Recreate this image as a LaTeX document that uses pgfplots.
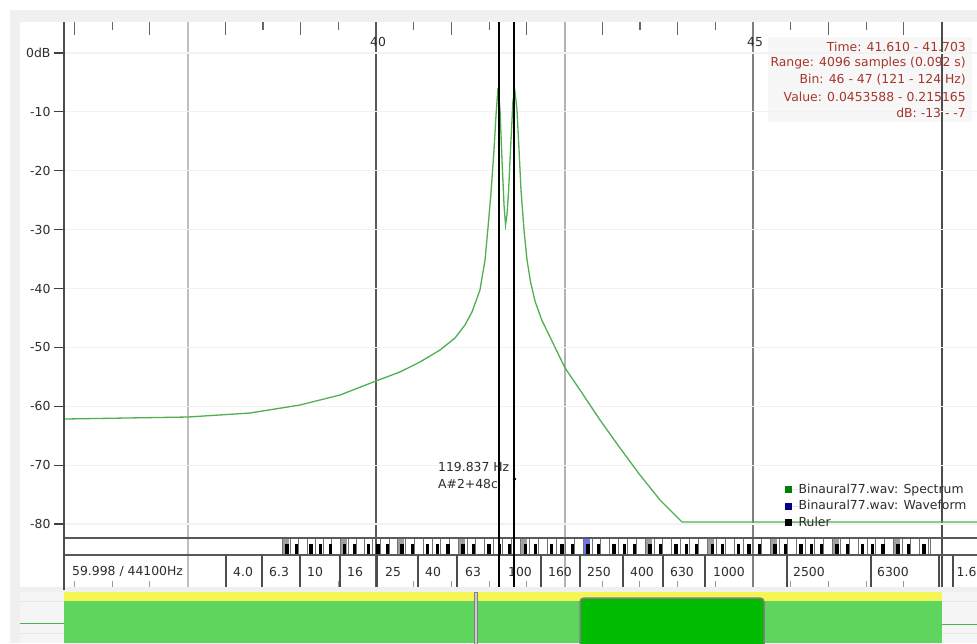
\documentclass[border=0pt]{standalone}
\usepackage{pgfplots}
\pgfplotsset{compat=1.18}
\usepackage{fontspec}
\setmainfont{DejaVu Sans}
\newcommand\fs{\fontsize{12.4}{15}\selectfont}
\definecolor{frame}{RGB}{240,240,240}
\definecolor{spec}{RGB}{80,175,80}
\definecolor{infored}{RGB}{165,55,45}
\definecolor{ovyellow}{RGB}{245,245,85}
\definecolor{ovgreen}{RGB}{94,214,94}
\definecolor{ovdark}{RGB}{0,187,0}
\definecolor{keygray}{RGB}{160,160,160}
\definecolor{keyblue}{RGB}{115,115,240}
\definecolor{txt}{RGB}{45,45,45}
\definecolor{legspec}{RGB}{0,128,0}
\definecolor{legwave}{RGB}{0,0,140}

% spectrum of the analysed window (x: time scale of the ruler, y: dB)
\pgfplotstableread{
x y
35.862 -62.17
37.507 -61.83
38.329 -61.15
38.992 -59.79
39.523 -58.09
40.000 -55.71
40.318 -54.18
40.584 -52.48
40.849 -50.45
41.048 -48.41
41.180 -46.20
41.273 -43.99
41.379 -40.25
41.446 -35.16
41.485 -29.72
41.525 -23.78
41.565 -16.48
41.592 -10.53
41.618 -5.94
41.645 -9.68
41.671 -18.17
41.698 -25.82
41.718 -29.21
41.737 -27.52
41.757 -23.78
41.784 -16.48
41.817 -7.98
41.844 -6.62
41.870 -9.68
41.897 -16.48
41.923 -23.27
41.963 -30.06
42.003 -35.16
42.050 -38.90
42.110 -42.20
42.200 -45.40
42.308 -48.24
42.507 -53.50
42.706 -57.24
42.971 -62.34
43.236 -67.09
43.501 -71.68
43.767 -75.92
43.966 -78.47
44.058 -79.66
47.971 -79.66
}\spectrum

\begin{document}
\begin{tikzpicture}
\useasboundingbox (0pt,0pt) rectangle (977pt,-643pt);
\clip (0pt,0pt) rectangle (977pt,-643pt);

% window background, keyboard, frequency strip and overview
\begin{scope}[x=1pt,y=-1pt]
  \fill[white] (0,0) rectangle (977,643);
  \fill[frame] (10,10) rectangle (977,643);
  \fill[white] (20,22) rectangle (977,587);
  % readout box
  \fill[black!3] (768,37) rectangle (972,122);
  % overview track
  \fill[black!4] (20,592) rectangle (64,643);
  \fill[black!4] (942,592) rectangle (977,643);
  \draw[black!10] (20,601) -- (64,601) (20,633) -- (64,633)
                  (942,601) -- (977,601) (942,633) -- (977,633);
  \draw[spec, line width=1pt] (20,623) -- (64,623) (942,624) -- (977,624);
  \fill[ovyellow] (64,592) rectangle (942,601);
  \fill[ovgreen] (64,601) rectangle (942,643);
  \draw[black!50, fill=black!20, line width=0.8pt] (474,592) rectangle (477.5,645);
  \draw[black!50, line width=1.5pt, fill=ovdark, rounded corners=4pt] (580,598) rectangle (764,650);

  % time ticks along the top and bottom
  \foreach \v in {36,...,47} \draw[black!60, line width=1.2pt] ({376+(\v-40)*75.4},22) -- ++(0,13);
  \foreach \v in {36.5,37.5,...,46.5} \draw[black!60, line width=1.2pt] ({376+(\v-40)*75.4},22) -- ++(0,8);
  \foreach \v in {36,36.5,...,47.5} \draw[black!40, line width=1pt] ({376+(\v-40)*75.4},581) -- ++(0,6);

  % vertical grid lines
  \draw[black!25, line width=1.5pt] (188,22) -- (188,587);
  \draw[black!65, line width=1.5pt] (376,22) -- (376,587);
  \draw[black!30, line width=1.5pt] (565,22) -- (565,587);
  \draw[black!50, line width=1.5pt] (753,22) -- (753,587);
  \draw[black!70, line width=1.5pt] (942,22) -- (942,587);

  % piano keyboard
  \begin{scope}
    \clip (281,538) rectangle (931,555);
    \foreach \s/\w/\c in {282/58/keygray, 340/57/keygray, 397/61/keygray, 458/62/keygray,
                          520/63/keygray, 583/62/keyblue, 645/62/keygray, 707/63/keygray,
                          770/62/keygray, 832/61/keygray, 893/62/keygray} {
      \fill[\c] (\s,538) rectangle ++(7,17);
      \foreach \k in {0,...,6} \draw[black!55, line width=0.7pt] ({\s+\k*\w/7},538) -- ++(0,17);
      \foreach \m in {1,3,6,8,10} \fill[black] ({\s+\m*\w/12-1.7},544) rectangle ++(3.4,11);
    }
  \end{scope}
  \draw[black!55, line width=0.7pt] (930,538) -- (930,555);
  \draw[black!65, line width=1.5pt] (64,538) -- (977,538) (64,555) -- (977,555);

  % frequency strip
  \foreach \s in {226,262,300,340,377,418,457,541,580,623,663,705,787,871,939,953}
    \draw[black!70, line width=1.2pt] (\s,555) -- (\s,587);
  \foreach \p/\t in {72/{59.998 / 44100Hz}, 233/4.0, 269/6.3, 307/10, 347/16, 385/25,
                     425/40, 465/63, 508/100, 548/160, 587/250, 630/400, 670/630,
                     713/1000, 793/2500, 877/6300, 956.5/1.6}
    \node[anchor=west, inner sep=0pt, font=\fs, text=txt] at (\p,571.5) {\t};
\end{scope}

\begin{axis}[
  at={(64pt,-538pt)}, anchor=south west,
  width=913pt, height=516pt, scale only axis,
  xmin=35.862, xmax=47.971, ymin=-82.38, ymax=5.265,
  axis line style={draw=none},
  xtick=\empty,
  ytick={0,-10,-20,-30,-40,-50,-60,-70,-80},
  yticklabels={0dB,-10,-20,-30,-40,-50,-60,-70,-80},
  ytick pos=left, tick align=outside, major tick length=10pt,
  ytick style={black!75, line width=1.2pt},
  yticklabel style={font=\fs, text=txt},
  ymajorgrids, major grid style={black!5, line width=1.2pt},
  legend style={at={(0.789,0.1047)}, anchor=north west, draw=none, fill=none,
                inner sep=0pt, font=\fs, text=txt, row sep=5pt,
                nodes={inner sep=0pt, text height=9pt, text depth=2.5pt}},
  legend cell align=left,
  legend image code/.code={\path[draw=none] (0pt,0pt) -- (14pt,0pt);
                           \fill[#1, draw=none] (0pt,-3.5pt) rectangle (7pt,3.5pt);},
]
  \addplot[spec, line width=1.3pt, forget plot] table[x=x, y=y] {\spectrum};
  \addlegendimage{fill=legspec, draw=none}
  \addlegendentry{Binaural77.wav: Spectrum}
  \addlegendimage{fill=legwave, draw=none}
  \addlegendentry{Binaural77.wav: Waveform}
  \addlegendimage{fill=black, draw=none}
  \addlegendentry{Ruler}
\end{axis}

% rulers, axis line and readouts
\begin{scope}[x=1pt,y=-1pt]
  \draw[black!70, line width=2pt] (64,22) -- (64,590);
  \draw[black, line width=2pt] (499,22) -- (499,587) (514,22) -- (514,587);
  \fill[black] (514.5,479) circle (1.8);
  \node[font=\fs, text=txt, inner sep=0pt] at (378,41.5) {40};
  \node[font=\fs, text=txt, inner sep=0pt] at (755,42) {45};
  \node[anchor=west, font=\fs, text=txt, inner sep=0pt] at (438,467) {119.837 Hz};
  \node[anchor=west, font=\fs, text=txt, inner sep=0pt] at (438,483.5) {A\#2+48c};
  \foreach \yy/\t in {47/{Time: 41.610 - 41.703}, 63.5/{Range: 4096 samples (0.092 s)},
                      80/{Bin: 46 - 47 (121 - 124 Hz)}, 96.5/{Value: 0.0453588 - 0.215165},
                      113/{dB: -13 - -7}}
    \node[anchor=east, font=\fs, text=infored, inner sep=0pt] at (966,\yy) {\t};
\end{scope}
\end{tikzpicture}
\end{document}
